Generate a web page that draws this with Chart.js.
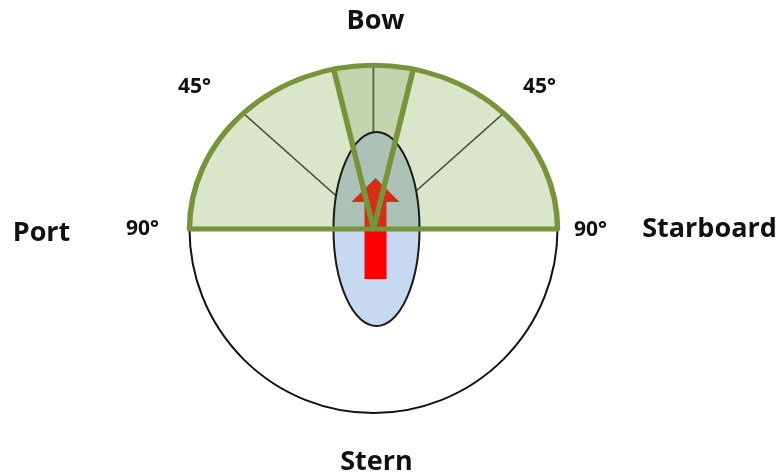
<!DOCTYPE html>
<html>
<head>
<meta charset="utf-8">
<script src="https://cdn.jsdelivr.net/npm/chart.js@4.4.1/dist/chart.umd.min.js"></script>
<style>
  html, body { margin: 0; padding: 0; background: #fff; overflow: hidden; }
</style>
</head>
<body>
<canvas id="chart" width="782" height="476"></canvas>
<script>
// sectors, clockwise from starboard beam (degrees of arc)
const sectors = ['Stern half', 'Port beam', 'Port bow', 'Port of bow', 'Starboard of bow', 'Starboard bow', 'Starboard beam'];
const spans = [180, 45, 32.5, 12.5, 12.5, 32.5, 45];
const compass = ['Bow', 'Starboard', 'Stern', 'Port'];
const degreeTicks = ['45°', '45°', '90°', '90°'];

const GREEN = '#77933c';
const SQUASH = 0.89; // top half is a little flatter than the stern half

function centre(chart) {
    const a = chart.getDatasetMeta(0).data[0];
    return { x: a.x, y: a.y, r: a.outerRadius };
}

const diagram = {
    id: 'diagram',
    beforeDatasetsDraw(chart) {
        const { x, y } = centre(chart);
        const ctx = chart.ctx;
        ctx.save();
        ctx.translate(x, y);
        ctx.scale(1, SQUASH);
        ctx.translate(-x, -y);
    },
    afterDatasetsDraw(chart) {
        const ctx = chart.ctx;
        ctx.restore();
        const { x, y, r } = centre(chart);
        const arcs = chart.getDatasetMeta(0).data;

        // stern half outline
        ctx.save();
        ctx.beginPath();
        ctx.arc(x, y, r, 0, Math.PI);
        ctx.lineWidth = 2;
        ctx.strokeStyle = '#111';
        ctx.stroke();

        // ship hull ellipse
        const ex = x + 3, erx = 43, ery = 97;
        ctx.beginPath();
        ctx.ellipse(ex, y, erx, ery, 0, 0, Math.PI * 2);
        ctx.fillStyle = '#c6d9f0';
        ctx.fill();

        // heading arrow
        ctx.beginPath();
        ctx.moveTo(x - 9, y + 50);
        ctx.lineTo(x - 9, y - 27);
        ctx.lineTo(x - 22, y - 27);
        ctx.lineTo(x + 2, y - 51);
        ctx.lineTo(x + 26, y - 27);
        ctx.lineTo(x + 13, y - 27);
        ctx.lineTo(x + 13, y + 50);
        ctx.closePath();
        ctx.fillStyle = '#ff0000';
        ctx.fill();

        // green tint over the forward half of the hull
        ctx.save();
        ctx.beginPath();
        ctx.rect(0, 0, chart.width, y);
        ctx.clip();
        ctx.beginPath();
        ctx.ellipse(ex, y, erx, ery, 0, 0, Math.PI * 2);
        ctx.fillStyle = 'rgba(118,146,60,0.32)';
        ctx.fill();
        ctx.restore();

        ctx.beginPath();
        ctx.ellipse(ex, y, erx, ery, 0, 0, Math.PI * 2);
        ctx.lineWidth = 2;
        ctx.strokeStyle = '#1a1a1a';
        ctx.stroke();

        // thick green outline of the forward half and the bow wedge
        ctx.save();
        ctx.translate(x, y);
        ctx.scale(1, SQUASH);
        ctx.translate(-x, -y);
        ctx.lineWidth = 5.5;
        ctx.strokeStyle = GREEN;
        ctx.lineJoin = 'round';
        ctx.beginPath();
        ctx.arc(x, y, r, arcs[1].startAngle, arcs[6].endAngle);
        ctx.closePath();
        ctx.stroke();
        [arcs[3].startAngle, arcs[4].endAngle].forEach((a) => {
            ctx.beginPath();
            ctx.moveTo(x, y);
            ctx.lineTo(x + r * Math.cos(a), y + r * Math.sin(a));
            ctx.stroke();
        });
        ctx.restore();

        // labels
        ctx.fillStyle = '#111';
        ctx.textAlign = 'center';
        ctx.textBaseline = 'middle';
        ctx.font = 'bold 27px "Open Sans"';
        const namePos = [[2, -208], [336, 0], [3, 233], [-332, 4]];
        compass.forEach((t, i) => ctx.fillText(t, x + namePos[i][0], y + namePos[i][1]));
        ctx.font = 'bold 21px "Open Sans"';
        const tickPos = [[-179, -142], [166, -142], [-231, 0], [217, 1]];
        degreeTicks.forEach((t, i) => ctx.fillText(t, x + tickPos[i][0], y + tickPos[i][1]));
        ctx.restore();
    }
};

new Chart(document.getElementById('chart'), {
    type: 'pie',
    data: {
        labels: sectors,
        datasets: [{
            data: spans,
            backgroundColor: ['rgba(0,0,0,0)', '#dbe5c9', '#dbe5c9', '#c5d3ad', '#c5d3ad', '#dbe5c9', '#dbe5c9'],
            borderColor: '#4f5838',
            borderWidth: [0, 1.5, 1.5, 1.5, 1.5, 1.5, 1.5],
            hoverOffset: 0
        }]
    },
    options: {
        responsive: false,
        animation: false,
        rotation: 90,
        radius: 184,
        layout: { padding: { left: 0, right: 35, top: 0, bottom: 18 } },
        plugins: {
            legend: { display: false },
            tooltip: { enabled: false }
        }
    },
    plugins: [diagram]
});
</script>
</body>
</html>
